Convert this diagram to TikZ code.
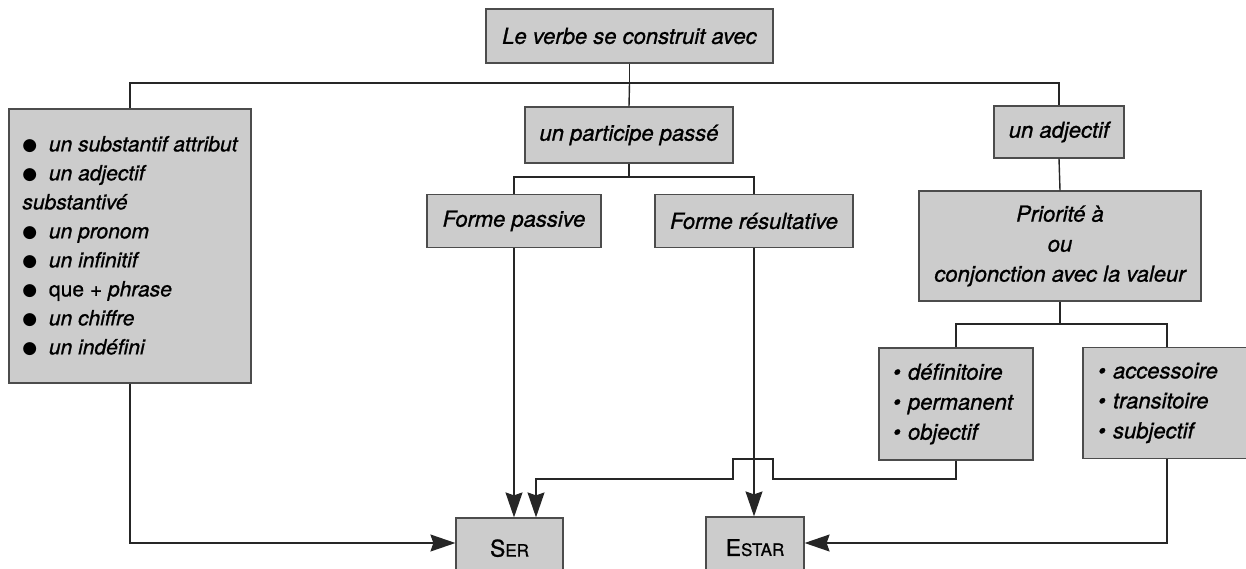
\documentclass[tikz,border=0pt]{standalone}
\usepackage{fontspec}
\setmainfont{TeX Gyre Heros}[FakeBold=1.0]
\newfontfamily\dvs{DejaVu Sans}
\usetikzlibrary{arrows.meta}
\newcommand\bigbul{{\dvs\fontsize{17}{17}\selectfont\raisebox{0.5pt}{●}}}
\tikzset{
  box/.style={draw=black!70, line width=1.2pt, fill=black!20, inner sep=0pt,
    font=\fontsize{22}{30}\selectfont\itshape, align=center},
  conn/.style={line width=1.4pt, draw=black!85},
  arr/.style={line width=1.4pt, draw=black!85, arrows={-Stealth[length=25pt, width=17pt, inset=3pt]}},
}
\begin{document}
\begin{tikzpicture}[x=1pt,y=-1pt]
\useasboundingbox (0,0) rectangle (1246,569);
\fill[white] (0,0) rectangle (1246,569);

% boxes
\node[box, minimum width=287pt, minimum height=54pt] (top) at (629.5,36) {Le verbe se construit avec};
\node[box, minimum width=242pt, minimum height=274pt, align=left,
      font=\fontsize{21}{29}\selectfont\itshape] (left) at (130,246)
  {\bigbul~ un substantif attribut\\
   \bigbul~ un adjectif\\
   substantivé\\
   \bigbul~ un pronom\\
   \bigbul~ un infinitif\\
   \bigbul~ {\upshape que +} phrase\\
   \bigbul~ un chiffre\\
   \bigbul~ un indéfini};
\node[box, minimum width=208pt, minimum height=56pt] (part) at (629,135) {un participe passé};
\node[box, minimum width=174pt, minimum height=53pt] (passive) at (514,221) {Forme passive};
\node[box, minimum width=198pt, minimum height=53pt] (result) at (754,221) {Forme résultative};
\node[box, minimum width=130pt, minimum height=52pt] (adj) at (1059,132) {un adjectif};
\node[box, minimum width=282pt, minimum height=110pt] (prio) at (1060,246)
  {Priorité à\\ ou\\ conjonction avec la valeur};
\node[box, minimum width=154pt, minimum height=112pt, align=left, text width=126pt, inner xsep=14pt] (def) at (956,404)
  {\textbullet\ définitoire\\ \textbullet\ permanent\\ \textbullet\ objectif};
\node[box, minimum width=168pt, minimum height=111pt, align=left, text width=138pt, inner xsep=15pt] (sub) at (1167,403)
  {\textbullet\ accessoire\\ \textbullet\ transitoire\\ \textbullet\ subjectif};
\node[box, minimum width=107pt, minimum height=70pt, font=\upshape] (ser) at (509.5,553)
  {\raisebox{10pt}{{\fontsize{23}{23}\selectfont S}{\fontsize{17}{17}\selectfont ER}}};
\node[box, minimum width=98pt, minimum height=70pt, font=\upshape] (estar) at (755,552)
  {\raisebox{9pt}{{\fontsize{23}{23}\selectfont E}{\fontsize{17}{17}\selectfont STAR}}};

% connectors
\coordinate (hub) at (629.5,83);
\draw[conn] (top.south) -- (hub);
\draw[conn] (left.north) -- (left.north |- hub) -- (adj.north |- hub) -- (adj.north);
\draw[conn] (hub) -- (part.north);
\coordinate (pbar) at (629,177);
\draw[conn] (part.south) -- (pbar);
\draw[conn] (passive.north) |- (pbar) -| (result.north);
\draw[arr] (passive.south) -- (passive.south |- ser.north);
\draw[arr] (result.south) -- (result.south |- estar.north);
\draw[arr] (left.south) |- ([yshift=10pt]ser.west);

\coordinate (hopR) at (773,479);
\coordinate (hopL) at (733,479);
\draw[arr] (def.south) |- (hopR) -- ++(0,-20) -| (hopL) -| ([xshift=26.5pt]ser.north);
\draw[arr] (sub.south) |- ([yshift=9pt]estar.east);

\draw[conn] (adj.south) -- (prio.north);
\coordinate (qbar) at (1060,324);
\draw[conn] (prio.south) -- (qbar);
\draw[conn] (def.north) |- (qbar) -| (sub.north);
\end{tikzpicture}
\end{document}
